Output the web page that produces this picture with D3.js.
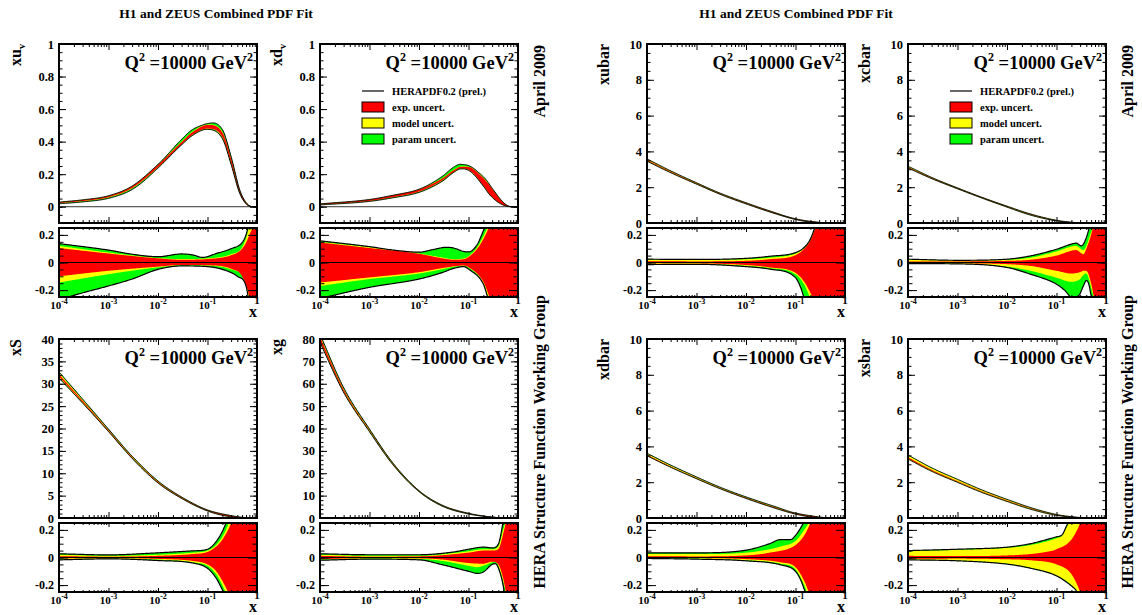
<!DOCTYPE html>
<html>
<head>
<meta charset="utf-8">
<script src="https://cdn.jsdelivr.net/npm/d3@7"></script>
<style>
  body { margin: 0; background: #fff; }
  svg text { font-family: "Liberation Serif", "Times New Roman", serif; font-weight: bold; fill: #000; }
</style>
</head>
<body>
<svg id="chart"></svg>
<script>
// ---- values: [x, value] pairs ----
// central curves (main panels)
const xuvCentral   = [[1e-4,0.025],[3e-4,0.038],[1e-3,0.062],[3e-3,0.12],[0.01,0.25],[0.03,0.39],[0.05,0.45],[0.1,0.49],[0.2,0.44],[0.3,0.28],[0.45,0.09],[0.6,0.022],[0.75,0.002],[0.9,0],[1,0]];
const xdvCentral   = [[1e-4,0.015],[1e-3,0.04],[3e-3,0.065],[0.01,0.10],[0.03,0.17],[0.05,0.22],[0.07,0.24],[0.1,0.235],[0.2,0.15],[0.3,0.085],[0.45,0.03],[0.6,0.006],[0.75,0],[1,0]];
const xubarCentral = [[1e-4,3.5],[3e-4,2.85],[1e-3,2.2],[3e-3,1.63],[0.01,1.1],[0.03,0.65],[0.1,0.22],[0.3,0.03],[0.6,0.002],[1,0]];
const xcbarCentral = [[1e-4,3.1],[3e-4,2.5],[1e-3,1.93],[3e-3,1.43],[0.01,0.92],[0.03,0.48],[0.1,0.14],[0.3,0.01],[0.6,0],[1,0]];
const xSCentral    = [[1e-4,31.8],[3e-4,26],[1e-3,19.5],[3e-3,13.5],[0.01,8.0],[0.03,4.5],[0.1,1.7],[0.3,0.4],[0.6,0.05],[1,0]];
const xgCentral    = [[1e-4,80],[3e-4,57],[1e-3,39],[3e-3,24],[0.01,12],[0.03,5.5],[0.1,2.0],[0.3,0.4],[0.6,0.03],[1,0]];
const xdbarCentral = [[1e-4,3.5],[3e-4,2.86],[1e-3,2.22],[3e-3,1.66],[0.01,1.12],[0.03,0.67],[0.1,0.24],[0.3,0.04],[0.6,0.003],[1,0]];
const xsbarCentral = [[1e-4,3.35],[3e-4,2.66],[1e-3,2.04],[3e-3,1.49],[0.01,0.97],[0.03,0.53],[0.1,0.17],[0.3,0.02],[0.6,0],[1,0]];

// relative uncertainty edges (ratio panels): exp, exp+model, total
const xuvExpUp = [[1e-4,0.105],[1e-3,0.065],[0.01,0.03],[0.03,0.02],[0.1,0.025],[0.3,0.053],[0.5,0.1],[0.7,0.2],[0.9,0.35],[1,0.6]];
const xuvExpDn = [[1e-4,-0.1],[1e-3,-0.06],[0.01,-0.03],[0.03,-0.018],[0.1,-0.02],[0.3,-0.045],[0.5,-0.1],[0.7,-0.25],[0.9,-0.5],[1,-0.6]];
const xuvModUp = [[1e-4,0.12],[1e-3,0.072],[0.01,0.032],[0.03,0.025],[0.1,0.03],[0.3,0.06],[0.5,0.11],[0.65,0.22],[0.8,0.4],[1,0.6]];
const xuvModDn = [[1e-4,-0.145],[1e-3,-0.085],[0.01,-0.035],[0.03,-0.02],[0.1,-0.022],[0.3,-0.05],[0.6,-0.15],[0.7,-0.3],[1,-0.6]];
const xuvTotUp = [[1e-4,0.137],[1e-3,0.09],[3e-3,0.06],[0.01,0.042],[0.03,0.062],[0.05,0.055],[0.08,0.037],[0.15,0.065],[0.3,0.1],[0.5,0.145],[0.6,0.2],[0.7,0.3],[1,0.6]];
const xuvTotDn = [[1e-4,-0.27],[3e-4,-0.22],[1e-3,-0.17],[3e-3,-0.12],[0.01,-0.05],[0.03,-0.025],[0.1,-0.03],[0.2,-0.05],[0.4,-0.1],[0.6,-0.17],[0.7,-0.3],[1,-0.6]];

const xdvExpUp = [[1e-4,0.145],[1e-3,0.105],[0.01,0.063],[0.03,0.03],[0.05,0.02],[0.08,0.024],[0.1,0.04],[0.15,0.1],[0.2,0.17],[0.3,0.3],[1,0.6]];
const xdvExpDn = [[1e-4,-0.145],[1e-3,-0.108],[0.01,-0.07],[0.03,-0.04],[0.05,-0.028],[0.08,-0.022],[0.1,-0.034],[0.2,-0.14],[0.3,-0.3],[1,-0.6]];
const xdvModUp = [[1e-4,0.15],[1e-3,0.11],[0.01,0.065],[0.03,0.036],[0.05,0.024],[0.08,0.03],[0.1,0.045],[0.15,0.11],[0.2,0.19],[0.3,0.32],[1,0.6]];
const xdvModDn = [[1e-4,-0.17],[1e-3,-0.12],[0.01,-0.08],[0.03,-0.048],[0.05,-0.031],[0.08,-0.024],[0.1,-0.036],[0.2,-0.15],[0.28,-0.3],[1,-0.6]];
const xdvTotUp = [[1e-4,0.157],[1e-3,0.115],[3e-3,0.09],[0.01,0.075],[0.02,0.095],[0.035,0.11],[0.05,0.105],[0.08,0.08],[0.1,0.077],[0.15,0.13],[0.2,0.23],[0.25,0.3],[1,0.6]];
const xdvTotDn = [[1e-4,-0.26],[1e-3,-0.18],[0.01,-0.12],[0.03,-0.072],[0.05,-0.043],[0.08,-0.03],[0.1,-0.048],[0.2,-0.157],[0.25,-0.26],[1,-0.6]];

const xubarExpUp = [[1e-4,0.01],[1e-3,0.008],[0.01,0.012],[0.03,0.024],[0.1,0.053],[0.15,0.1],[0.2,0.16],[0.25,0.25],[0.4,0.5],[1,0.8]];
const xubarExpDn = [[1e-4,-0.005],[1e-3,-0.006],[0.01,-0.018],[0.03,-0.035],[0.1,-0.075],[0.15,-0.14],[0.2,-0.22],[0.25,-0.3],[1,-0.8]];
const xubarModUp = [[1e-4,0.02],[1e-3,0.02],[0.01,0.024],[0.03,0.035],[0.1,0.065],[0.15,0.105],[0.2,0.165],[0.25,0.26],[1,0.8]];
const xubarModDn = [[1e-4,-0.01],[1e-3,-0.011],[0.01,-0.024],[0.03,-0.04],[0.1,-0.085],[0.15,-0.16],[0.2,-0.26],[1,-0.8]];
const xubarTotUp = [[1e-4,0.024],[1e-3,0.022],[0.01,0.03],[0.03,0.045],[0.1,0.072],[0.15,0.11],[0.2,0.17],[0.25,0.26],[1,0.8]];
const xubarTotDn = [[1e-4,-0.015],[1e-3,-0.013],[0.01,-0.03],[0.03,-0.048],[0.1,-0.11],[0.13,-0.19],[0.15,-0.26],[1,-0.8]];

const xcbarExpUp = [[1e-4,0.008],[1e-3,0.008],[0.01,0.012],[0.03,0.02],[0.1,0.05],[0.25,0.09],[0.35,0.06],[0.4,0.1],[0.55,0.26],[1,0.8]];
const xcbarExpDn = [[1e-4,-0.003],[1e-3,-0.005],[0.01,-0.012],[0.03,-0.025],[0.1,-0.06],[0.2,-0.08],[0.3,-0.07],[0.35,-0.06],[0.4,-0.06],[0.5,-0.15],[0.6,-0.3],[1,-0.8]];
const xcbarModUp = [[1e-4,0.02],[1e-3,0.018],[0.01,0.02],[0.03,0.035],[0.1,0.08],[0.25,0.12],[0.35,0.09],[0.4,0.12],[0.5,0.22],[0.6,0.3],[1,0.8]];
const xcbarModDn = [[1e-4,-0.005],[1e-3,-0.008],[0.01,-0.03],[0.03,-0.06],[0.1,-0.11],[0.2,-0.14],[0.3,-0.12],[0.35,-0.09],[0.4,-0.08],[0.5,-0.18],[0.6,-0.3],[1,-0.8]];
const xcbarTotUp = [[1e-4,0.024],[1e-3,0.016],[0.01,0.024],[0.03,0.048],[0.1,0.096],[0.2,0.133],[0.25,0.14],[0.32,0.12],[0.4,0.18],[0.45,0.24],[0.5,0.3],[1,0.8]];
const xcbarTotDn = [[1e-4,-0.008],[1e-3,-0.01],[0.01,-0.036],[0.03,-0.085],[0.1,-0.157],[0.15,-0.205],[0.2,-0.25],[0.28,-0.24],[0.35,-0.17],[0.4,-0.13],[0.45,-0.157],[0.5,-0.24],[0.55,-0.3],[1,-0.8]];

const xSExpUp = [[1e-4,0.01],[1e-3,0.006],[0.01,0.012],[0.05,0.025],[0.1,0.04],[0.15,0.08],[0.2,0.13],[0.3,0.25],[0.5,0.5],[1,0.8]];
const xSExpDn = [[1e-4,-0.006],[1e-3,-0.005],[0.01,-0.01],[0.05,-0.025],[0.1,-0.05],[0.15,-0.1],[0.2,-0.17],[0.3,-0.3],[1,-0.8]];
const xSModUp = [[1e-4,0.02],[1e-3,0.012],[0.01,0.02],[0.05,0.035],[0.1,0.05],[0.15,0.09],[0.2,0.15],[0.25,0.22],[0.3,0.3],[1,0.8]];
const xSModDn = [[1e-4,-0.012],[1e-3,-0.008],[0.01,-0.015],[0.05,-0.035],[0.1,-0.06],[0.15,-0.12],[0.2,-0.2],[0.25,-0.28],[1,-0.8]];
const xSTotUp = [[1e-4,0.027],[1e-3,0.019],[0.01,0.034],[0.05,0.048],[0.1,0.06],[0.15,0.116],[0.2,0.19],[0.25,0.27],[1,0.8]];
const xSTotDn = [[1e-4,-0.017],[1e-3,-0.01],[0.01,-0.022],[0.05,-0.04],[0.1,-0.078],[0.15,-0.15],[0.2,-0.235],[0.23,-0.28],[1,-0.8]];

const xgExpUp = [[1e-4,0.012],[1e-3,0.006],[0.01,0.008],[0.1,0.035],[0.2,0.05],[0.3,0.05],[0.4,0.06],[0.5,0.17],[0.6,0.3],[1,0.8]];
const xgExpDn = [[1e-4,-0.012],[1e-3,-0.004],[0.01,-0.006],[0.03,-0.015],[0.1,-0.04],[0.2,-0.045],[0.3,-0.03],[0.4,-0.05],[0.5,-0.15],[0.6,-0.3],[1,-0.8]];
const xgModUp = [[1e-4,0.02],[1e-3,0.012],[0.01,0.012],[0.1,0.045],[0.2,0.06],[0.3,0.06],[0.4,0.08],[0.5,0.2],[0.6,0.3],[1,0.8]];
const xgModDn = [[1e-4,-0.015],[1e-3,-0.008],[0.01,-0.01],[0.03,-0.025],[0.1,-0.06],[0.15,-0.07],[0.2,-0.06],[0.3,-0.035],[0.35,-0.03],[0.4,-0.06],[0.5,-0.17],[0.6,-0.3],[1,-0.8]];
const xgTotUp = [[1e-4,0.027],[1e-3,0.02],[0.01,0.02],[0.05,0.04],[0.1,0.06],[0.2,0.075],[0.3,0.07],[0.4,0.096],[0.45,0.165],[0.5,0.26],[1,0.8]];
const xgTotDn = [[1e-4,-0.02],[1e-3,-0.012],[0.01,-0.017],[0.03,-0.053],[0.1,-0.1],[0.15,-0.115],[0.2,-0.105],[0.3,-0.05],[0.35,-0.045],[0.4,-0.075],[0.5,-0.2],[0.55,-0.3],[1,-0.8]];

const xdbarExpUp = [[1e-4,0.01],[1e-3,0.008],[0.01,0.015],[0.03,0.035],[0.1,0.09],[0.15,0.16],[0.2,0.25],[0.3,0.4],[1,0.8]];
const xdbarExpDn = [[1e-4,-0.003],[1e-3,-0.004],[0.01,-0.012],[0.05,-0.035],[0.1,-0.07],[0.15,-0.17],[0.2,-0.28],[1,-0.8]];
const xdbarModUp = [[1e-4,0.025],[1e-3,0.025],[0.01,0.035],[0.03,0.06],[0.05,0.08],[0.1,0.12],[0.15,0.2],[0.2,0.27],[1,0.8]];
const xdbarModDn = [[1e-4,-0.005],[1e-3,-0.008],[0.01,-0.02],[0.05,-0.045],[0.1,-0.085],[0.15,-0.2],[0.18,-0.27],[1,-0.8]];
const xdbarTotUp = [[1e-4,0.034],[1e-3,0.034],[0.01,0.053],[0.03,0.1],[0.05,0.13],[0.08,0.13],[0.1,0.16],[0.12,0.2],[0.15,0.26],[1,0.8]];
const xdbarTotDn = [[1e-4,-0.007],[1e-3,-0.012],[0.01,-0.024],[0.05,-0.053],[0.1,-0.1],[0.13,-0.17],[0.15,-0.23],[0.17,-0.28],[1,-0.8]];

const xsbarExpUp = [[1e-4,0.012],[1e-3,0.01],[0.01,0.015],[0.03,0.025],[0.05,0.035],[0.1,0.06],[0.2,0.13],[0.3,0.25],[0.5,0.5],[1,0.8]];
const xsbarExpDn = [[1e-4,-0.01],[1e-3,-0.008],[0.01,-0.013],[0.03,-0.02],[0.1,-0.05],[0.2,-0.12],[0.3,-0.25],[0.5,-0.5],[1,-0.8]];
const xsbarModUp = [[1e-4,0.045],[1e-3,0.055],[0.01,0.07],[0.03,0.09],[0.1,0.14],[0.13,0.16],[0.16,0.22],[0.2,0.28],[1,0.8]];
const xsbarModDn = [[1e-4,-0.015],[1e-3,-0.022],[0.01,-0.045],[0.03,-0.075],[0.1,-0.13],[0.2,-0.2],[0.25,-0.24],[0.3,-0.3],[1,-0.8]];
const xsbarTotUp = [[1e-4,0.05],[1e-3,0.06],[0.01,0.075],[0.03,0.1],[0.05,0.12],[0.1,0.15],[0.13,0.165],[0.16,0.23],[0.2,0.3],[1,0.8]];
const xsbarTotDn = [[1e-4,-0.017],[1e-3,-0.024],[0.01,-0.048],[0.03,-0.078],[0.1,-0.133],[0.2,-0.206],[0.25,-0.24],[0.3,-0.3],[1,-0.8]];

// panel texts and axis ranges
const yLabelMain = ["xu", "xd", "xubar", "xcbar", "xS", "xg", "xdbar", "xsbar"];
const yLabelSub  = ["v", "v", "", "", "", "", "", ""];
const yTop       = [1, 1, 10, 10, 40, 80, 10, 10];
const yBottom    = [-0.1, -0.1, 0, 0, 0, 0, 0, 0];
const yMajorStep = [0.2, 0.2, 2, 2, 5, 10, 2, 2];
const yMinorStep = [0.05, 0.05, 0.5, 0.5, 1, 2, 0.5, 0.5];
const xDecades   = [-4, -3, -2, -1];
const ratioTicks = [-0.2, 0, 0.2];
const titleText  = "H1 and ZEUS Combined PDF Fit";
const legendText = ["HERAPDF0.2 (prel.)", "exp. uncert.", "model uncert.", "param uncert."];
const bandColors = ["#ff0000", "#ffff00", "#00ff00"]; // exp, model, param

const pdfs = [
  {c: xuvCentral,   exp: [xuvExpUp, xuvExpDn],     mod: [xuvModUp, xuvModDn],     tot: [xuvTotUp, xuvTotDn]},
  {c: xdvCentral,   exp: [xdvExpUp, xdvExpDn],     mod: [xdvModUp, xdvModDn],     tot: [xdvTotUp, xdvTotDn]},
  {c: xubarCentral, exp: [xubarExpUp, xubarExpDn], mod: [xubarModUp, xubarModDn], tot: [xubarTotUp, xubarTotDn]},
  {c: xcbarCentral, exp: [xcbarExpUp, xcbarExpDn], mod: [xcbarModUp, xcbarModDn], tot: [xcbarTotUp, xcbarTotDn]},
  {c: xSCentral,    exp: [xSExpUp, xSExpDn],       mod: [xSModUp, xSModDn],       tot: [xSTotUp, xSTotDn]},
  {c: xgCentral,    exp: [xgExpUp, xgExpDn],       mod: [xgModUp, xgModDn],       tot: [xgTotUp, xgTotDn]},
  {c: xdbarCentral, exp: [xdbarExpUp, xdbarExpDn], mod: [xdbarModUp, xdbarModDn], tot: [xdbarTotUp, xdbarTotDn]},
  {c: xsbarCentral, exp: [xsbarExpUp, xsbarExpDn], mod: [xsbarModUp, xsbarModDn], tot: [xsbarTotUp, xsbarTotDn]}
];

// ---- layout ----
const W = 1142, H = 615;
const colLeft = [59, 320, 647, 908];
const rowTop = [44, 339];
const panelW = 198, mainH = 179, gap = 5, ratioH = 69;

const svg = d3.select("#chart").attr("width", W).attr("height", H);

// smooth monotone interpolation in log(x), like curveMonotoneX
function smooth(pairs) {
  const xs = pairs.map(p => Math.log10(p[0])), ys = pairs.map(p => p[1]);
  const n = xs.length, d = [], m = new Array(n);
  for (let i = 0; i < n - 1; i++) d.push((ys[i+1] - ys[i]) / (xs[i+1] - xs[i]));
  m[0] = d[0]; m[n-1] = d[n-2];
  for (let i = 1; i < n - 1; i++) m[i] = d[i-1] * d[i] <= 0 ? 0 : (d[i-1] + d[i]) / 2;
  for (let i = 0; i < n - 1; i++) {
    if (d[i] === 0) { m[i] = 0; m[i+1] = 0; continue; }
    const a = m[i] / d[i], b = m[i+1] / d[i], s = a*a + b*b;
    if (s > 9) { const t = 3 / Math.sqrt(s); m[i] = t*a*d[i]; m[i+1] = t*b*d[i]; }
  }
  return x => {
    const lx = Math.log10(x);
    let i = Math.max(0, Math.min(n - 2, d3.bisectRight(xs, lx) - 1));
    const h = xs[i+1] - xs[i], t = (lx - xs[i]) / h, t2 = t*t, t3 = t2*t;
    return (2*t3 - 3*t2 + 1)*ys[i] + (t3 - 2*t2 + t)*h*m[i] + (-2*t3 + 3*t2)*ys[i+1] + (t3 - t2)*h*m[i+1];
  };
}

const xSamples = d3.range(0, 241).map(i => Math.pow(10, -4 + 4 * i / 240));
const minorX = [];
xDecades.forEach(e => { for (let k = 2; k < 10; k++) minorX.push(k * Math.pow(10, e)); });

function styleAxis(g, size) {
  g.select(".domain").remove();
  g.selectAll(".tick line").attr("stroke", "#000").attr("stroke-width", 1);
  g.attr("font-family", null).attr("font-size", size);
  g.selectAll("text").style("font-family", '"Liberation Serif", serif').style("font-weight", "bold");
}

function frameTicks(g, x, y, yMajor, yMinor, yFmt, xMaj, xMin, yMaj, yMin, fs) {
  const top = y.range()[1], bottom = y.range()[0];
  const left = x.range()[0], right = x.range()[1];
  g.append("g").attr("transform", `translate(0,${bottom})`)
    .call(d3.axisBottom(x).tickValues([1e-4,1e-3,1e-2,1e-1,1]).tickSize(-xMaj).tickFormat("")).call(styleAxis, fs);
  g.append("g").attr("transform", `translate(0,${bottom})`)
    .call(d3.axisBottom(x).tickValues(minorX).tickSize(-xMin).tickFormat("")).call(styleAxis, fs);
  g.append("g").attr("transform", `translate(0,${top})`)
    .call(d3.axisTop(x).tickValues([1e-4,1e-3,1e-2,1e-1,1]).tickSize(-xMaj).tickFormat("")).call(styleAxis, fs);
  g.append("g").attr("transform", `translate(0,${top})`)
    .call(d3.axisTop(x).tickValues(minorX).tickSize(-xMin).tickFormat("")).call(styleAxis, fs);
  g.append("g").attr("transform", `translate(${left},0)`)
    .call(d3.axisLeft(y).tickValues(yMajor).tickSize(-yMaj).tickPadding(5).tickFormat(yFmt)).call(styleAxis, fs);
  g.append("g").attr("transform", `translate(${left},0)`)
    .call(d3.axisLeft(y).tickValues(yMinor).tickSize(-yMin).tickFormat("")).call(styleAxis, fs);
  g.append("g").attr("transform", `translate(${right},0)`)
    .call(d3.axisRight(y).tickValues(yMajor).tickSize(-yMaj).tickFormat("")).call(styleAxis, fs);
  g.append("g").attr("transform", `translate(${right},0)`)
    .call(d3.axisRight(y).tickValues(yMinor).tickSize(-yMin).tickFormat("")).call(styleAxis, fs);
  g.append("rect").attr("x", left).attr("y", top).attr("width", right - left).attr("height", bottom - top)
    .attr("fill", "none").attr("stroke", "#000").attr("stroke-width", 2);
}

const numFmt = d => Math.abs(d) < 1e-9 ? "0" : (d < 0 ? "-" : "") + d3.format("~g")(Math.abs(+d.toFixed(4)));

pdfs.forEach((p, i) => {
  const col = i % 4, row = Math.floor(i / 4);
  const left = colLeft[col], top = rowTop[row];
  const rTop = top + mainH + gap;
  const x = d3.scaleLog().domain([1e-4, 1]).range([left, left + panelW]);
  const yMain = d3.scaleLinear().domain([yBottom[i], yTop[i]]).range([top + mainH, top]);
  const yRat = d3.scaleLinear().domain([-0.25, 0.25]).range([rTop + ratioH, rTop]);
  const g = svg.append("g");

  const C = smooth(p.c);
  const bands = [["tot", bandColors[2]], ["mod", bandColors[1]], ["exp", bandColors[0]]]
    .map(([k, col]) => ({up: smooth(p[k][0]), dn: smooth(p[k][1]), color: col}));

  // clip regions
  const defs = g.append("defs");
  defs.append("clipPath").attr("id", `cm${i}`).append("rect")
    .attr("x", left).attr("y", top).attr("width", panelW).attr("height", mainH);
  defs.append("clipPath").attr("id", `cr${i}`).append("rect")
    .attr("x", left).attr("y", rTop).attr("width", panelW).attr("height", ratioH);

  // ---- main panel ----
  const gm = g.append("g").attr("clip-path", `url(#cm${i})`);
  bands.forEach(b => {
    gm.append("path").datum(xSamples)
      .attr("fill", b.color)
      .attr("d", d3.area().x(d => x(d)).y0(d => yMain(C(d) * (1 + b.dn(d)))).y1(d => yMain(C(d) * (1 + b.up(d)))));
  });
  gm.append("line").attr("x1", left).attr("x2", left + panelW)
    .attr("y1", yMain(0)).attr("y2", yMain(0)).attr("stroke", "#333").attr("stroke-width", 1);
  [bands[0].up, bands[0].dn].forEach(f => {
    gm.append("path").datum(xSamples).attr("fill", "none").attr("stroke", "#000").attr("stroke-width", 1)
      .attr("d", d3.line().x(d => x(d)).y(d => yMain(C(d) * (1 + f(d)))));
  });

  const yMaj = d3.range(Math.ceil(yBottom[i] / yMajorStep[i] - 1e-9), Math.floor(yTop[i] / yMajorStep[i] + 1e-9) + 1).map(k => +(k * yMajorStep[i]).toFixed(4));
  const yMin = d3.range(Math.ceil(yBottom[i] / yMinorStep[i] - 1e-9), Math.floor(yTop[i] / yMinorStep[i] + 1e-9) + 1).map(k => +(k * yMinorStep[i]).toFixed(4));
  frameTicks(g, x, yMain, yMaj, yMin, numFmt, 6, 3, 7, 3.5, 12.5);

  // ---- ratio panel ----
  const gr = g.append("g").attr("clip-path", `url(#cr${i})`);
  bands.forEach(b => {
    gr.append("path").datum(xSamples)
      .attr("fill", b.color)
      .attr("d", d3.area().x(d => x(d)).y0(d => yRat(b.dn(d))).y1(d => yRat(b.up(d))));
  });
  [bands[0].up, bands[0].dn].forEach(f => {
    gr.append("path").datum(xSamples).attr("fill", "none").attr("stroke", "#000").attr("stroke-width", 1.2)
      .attr("d", d3.line().x(d => x(d)).y(d => yRat(f(d))));
  });
  gr.append("line").attr("x1", left).attr("x2", left + panelW)
    .attr("y1", yRat(0)).attr("y2", yRat(0)).attr("stroke", "#000").attr("stroke-width", 1);

  const rMin = d3.range(-5, 6).map(k => +(k * 0.05).toFixed(2));
  frameTicks(g, x, yRat, ratioTicks, rMin, numFmt, 4, 2, 9, 4.5, 12);

  // x tick labels under the ratio panel
  const rBot = rTop + ratioH;
  xDecades.forEach(e => {
    const t = g.append("text").attr("x", x(Math.pow(10, e))).attr("y", rBot + 12)
      .attr("text-anchor", "middle").attr("font-size", 11);
    t.append("tspan").text("10");
    t.append("tspan").attr("dy", -5).attr("font-size", 8).text(String(e));
  });
  g.append("text").attr("x", x(1)).attr("y", rBot + 7).attr("text-anchor", "middle")
    .attr("font-size", 11).text("1");
  g.append("text").attr("x", x(1) - 4).attr("y", rBot + 20).attr("text-anchor", "middle")
    .attr("font-size", 16).text("x");

  // y label
  const yl = g.append("text").attr("transform", `translate(${left - 38},${top}) rotate(-90)`)
    .attr("text-anchor", "end").attr("font-size", 16);
  yl.append("tspan").text(yLabelMain[i]);
  if (yLabelSub[i]) yl.append("tspan").attr("dy", 4).attr("font-size", 10).text(yLabelSub[i]);

  // Q2 label
  const q = g.append("text").attr("x", left + panelW - 4).attr("y", top + 25)
    .attr("text-anchor", "end").attr("font-size", 18.5);
  q.append("tspan").text("Q");
  q.append("tspan").attr("dy", -8).attr("font-size", 12).text("2");
  q.append("tspan").attr("dy", 8).text(" =10000 GeV");
  q.append("tspan").attr("dy", -8).attr("font-size", 12).text("2");

  // legend in the right panel of each pair (top row)
  if (row === 0 && col % 2 === 1) {
    const lx = left + 42;
    g.append("line").attr("x1", lx).attr("x2", lx + 22).attr("y1", top + 47).attr("y2", top + 47)
      .attr("stroke", "#000").attr("stroke-width", 1.2);
    g.append("text").attr("x", lx + 30).attr("y", top + 51).attr("font-size", 10.5).text(legendText[0]);
    bandColors.forEach((c, k) => {
      const by = top + 58 + k * 16;
      g.append("rect").attr("x", lx).attr("y", by).attr("width", 22).attr("height", 10)
        .attr("fill", c).attr("stroke", "#000").attr("stroke-width", 1);
      g.append("text").attr("x", lx + 30).attr("y", by + 9).attr("font-size", 10.5).text(legendText[k + 1]);
    });
    g.append("text").attr("transform", `translate(${left + panelW + 27},${top + 1}) rotate(-90)`)
      .attr("text-anchor", "end").attr("font-size", 16).text("April 2009");
  }
  if (row === 1 && col % 2 === 1) {
    g.append("text").attr("transform", `translate(${left + panelW + 27},${top - 44}) rotate(-90)`)
      .attr("text-anchor", "end").attr("font-size", 16).text("HERA Structure Function Working Group");
  }
});

// titles
[216, 796].forEach(cx => {
  svg.append("text").attr("x", cx).attr("y", 18).attr("text-anchor", "middle")
    .attr("font-size", 13.5).text(titleText);
});
</script>
</body>
</html>
